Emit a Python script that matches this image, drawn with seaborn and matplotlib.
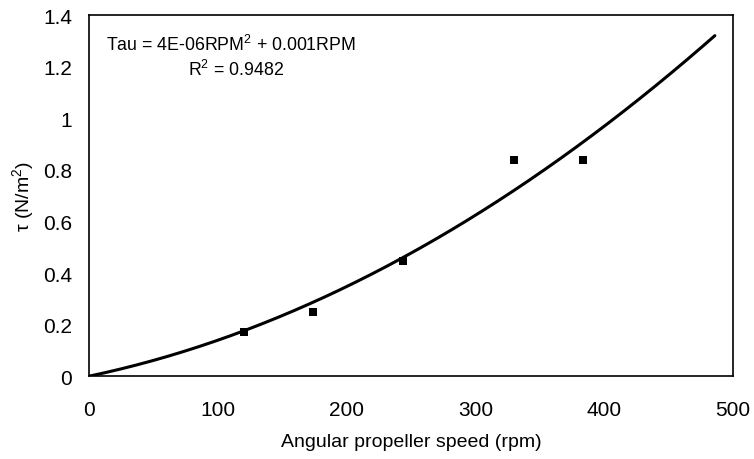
import numpy as np
import pandas as pd
import matplotlib
matplotlib.use("Agg")
import matplotlib.pyplot as plt
import seaborn as sns
from matplotlib.ticker import FuncFormatter

# Data
rpm = [120, 174, 244, 330, 384]
tau = [0.17, 0.248, 0.446, 0.837, 0.837]
x_ticks = [0, 100, 200, 300, 400, 500]
y_ticks = [0, 0.2, 0.4, 0.6, 0.8, 1.0, 1.2, 1.4]
fit_range = (0, 486)
eq_text = "Tau = 4E-06RPM$^2$ + 0.001RPM"
r2_text = "R$^2$ = 0.9482"

sns.set_theme(style="white")
plt.rcParams['font.family'] = ['Liberation Sans', 'DejaVu Sans']
plt.rcParams['mathtext.fontset'] = 'custom'
plt.rcParams['mathtext.rm'] = 'Liberation Sans'
plt.rcParams['mathtext.it'] = 'Liberation Sans'
plt.rcParams['text.color'] = 'black'
plt.rcParams['axes.labelcolor'] = 'black'

df = pd.DataFrame({"rpm": rpm, "tau": tau})

# Second-order polynomial trendline through the origin
X = np.column_stack([df.rpm.values ** 2, df.rpm.values])
coef, *_ = np.linalg.lstsq(X, df.tau.values, rcond=None)
xf = np.linspace(fit_range[0], fit_range[1], 200)
fit_df = pd.DataFrame({"rpm": xf, "tau": coef[0] * xf ** 2 + coef[1] * xf})

fig = plt.figure(figsize=(7.54, 4.6), dpi=100)
ax = fig.add_axes([0.118, 0.180, 0.854, 0.785])

sns.lineplot(data=fit_df, x="rpm", y="tau", ax=ax, color="black", linewidth=2.2)
sns.scatterplot(data=df, x="rpm", y="tau", ax=ax, marker="s", color="black",
                s=26, edgecolor="black", linewidth=0, zorder=5)

ax.set_xlim(0, 500)
ax.set_ylim(0, 1.4)
ax.set_xticks(x_ticks)
ax.set_yticks(y_ticks)
ax.yaxis.set_major_formatter(FuncFormatter(lambda v, p: f"{v:g}"))
ax.tick_params(axis="x", direction="inout", length=10, width=1, colors="black",
               labelsize=15, pad=12)
ax.tick_params(axis="y", direction="out", length=4.3, width=1, colors="black",
               labelsize=15, pad=8)
ax.set_xlabel("Angular propeller speed (rpm)", fontsize=14, labelpad=10)
ax.set_ylabel("τ (N/m$^2$)", fontsize=14, labelpad=5)
for s in ax.spines.values():
    s.set_color("black")
    s.set_linewidth(1.2)

ax.text(0.221, 0.92, eq_text, transform=ax.transAxes, ha="center", va="center",
        fontsize=12.8)
ax.text(0.228, 0.85, r2_text, transform=ax.transAxes, ha="center", va="center",
        fontsize=12.8)

fig.savefig("out.png", dpi=100)
